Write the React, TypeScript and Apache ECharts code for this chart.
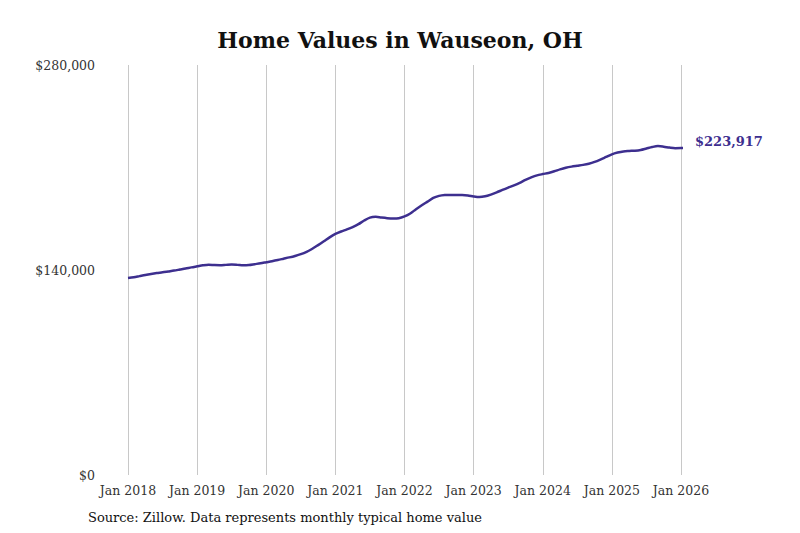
import React, { useEffect, useRef } from "react";
import * as echarts from "echarts";

const startYear = 2018;
const yTicks = [0, 140000, 280000];
// monthly typical home value, Jan 2018 .. Mar 2026 (thousands)
const values2018 = [134.5, 135, 135.8, 136.6, 137.3, 137.9, 138.4, 139, 139.6, 140.3, 141, 141.8];
const values2019 = [142.5, 143.2, 143.6, 143.4, 143.3, 143.5, 143.7, 143.5, 143.2, 143.4, 144, 144.6];
const values2020 = [145.3, 146, 146.8, 147.7, 148.6, 149.6, 150.8, 152.4, 154.5, 157, 159.6, 162.3];
const values2021 = [164.6, 166.3, 167.7, 169.3, 171.3, 173.8, 175.8, 176.3, 175.8, 175.4, 175.2, 175.4];
const values2022 = [176.6, 178.6, 181.5, 184.2, 186.7, 189.2, 190.6, 191.2, 191.3, 191.2, 191.2, 190.9];
const values2023 = [190.2, 189.8, 190.3, 191.5, 193, 194.7, 196.3, 197.8, 199.5, 201.5, 203.2, 204.6];
const values2024 = [205.5, 206.3, 207.4, 208.7, 209.8, 210.6, 211.2, 211.8, 212.6, 213.8, 215.4, 217.2];
const values2025 = [219, 220.2, 221, 221.3, 221.5, 222, 223, 224, 224.6, 224.2, 223.6, 223.2];
const values2026 = [223.3, 223.5, 223.917];

const allValues = [
  ...values2018, ...values2019, ...values2020, ...values2021, ...values2022,
  ...values2023, ...values2024, ...values2025, ...values2026,
];

const App = () => {
  const chartRef = useRef(null);

  useEffect(() => {
    document.body.style.margin = "0";
    if (!chartRef.current) return;
    const chart = echarts.init(chartRef.current, null, { renderer: "svg" });
    const font = "'DejaVu Serif', 'Liberation Serif', serif";

    chart.setOption({
      animation: false,
      textStyle: { fontFamily: font },
      title: {
        text: "Home Values in Wauseon, OH",
        left: "center",
        top: 24,
        textStyle: { fontFamily: font, fontSize: 22, fontWeight: "bold", color: "#111" },
      },
      grid: { left: 128, top: 65, width: 553, height: 410 },
      xAxis: {
        type: "value",
        min: 0,
        max: 96,
        interval: 12,
        axisLine: { show: false },
        axisTick: { show: false },
        axisLabel: {
          fontFamily: font,
          fontSize: 12.5,
          color: "#333",
          margin: 9,
          formatter: (v: number) => `Jan ${startYear + v / 12}`,
        },
        splitLine: { show: true, lineStyle: { color: "#c8c8c8", width: 1 } },
      },
      yAxis: {
        type: "value",
        min: yTicks[0],
        max: yTicks[2],
        interval: 140000,
        axisLine: { show: false },
        axisTick: { show: false },
        splitLine: { show: false },
        axisLabel: {
          fontFamily: font,
          fontSize: 12.5,
          color: "#333",
          margin: 33,
          formatter: (v: number) => "$" + v.toLocaleString("en-US"),
        },
      },
      series: [
        {
          type: "line",
          data: allValues.map((v, i) => [i, v * 1000]),
          showSymbol: false,
          smooth: 0.3,
          clip: false,
          lineStyle: { color: "#3d2f8f", width: 2.5 },
          endLabel: {
            show: true,
            formatter: "$223,917",
            color: "#3d2f8f",
            fontFamily: font,
            fontWeight: "bold",
            fontSize: 13,
            distance: 12,
            offset: [0, -6],
          },
        },
      ],
      graphic: [
        {
          type: "text",
          left: 88,
          top: 511,
          style: {
            text: "Source: Zillow. Data represents monthly typical home value",
            fontFamily: font,
            fontSize: 13,
            fill: "#111",
          },
        },
      ],
    });
    return () => chart.dispose();
  }, []);

  return <div ref={chartRef} style={{ width: "800px", height: "533px" }} />;
};

export default App;
